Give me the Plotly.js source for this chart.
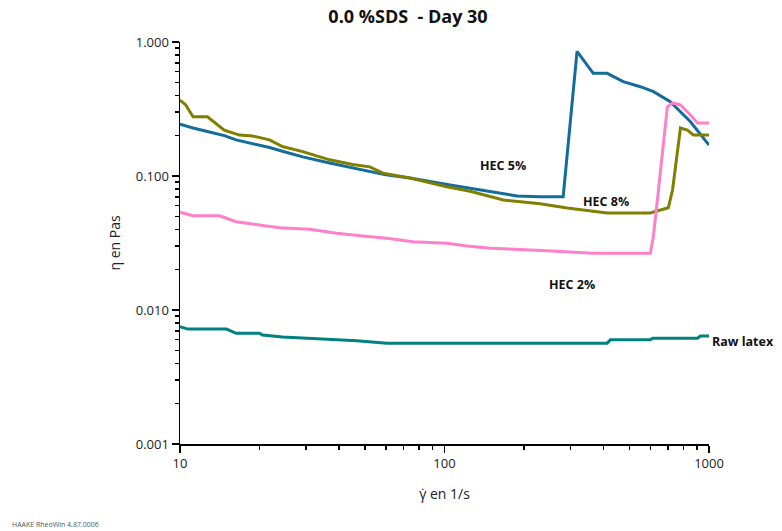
<!DOCTYPE html>
<html>
<head>
<meta charset="utf-8">
<script src="https://cdn.plot.ly/plotly-3.0.1.min.js"></script>
<style>html,body{margin:0;padding:0;background:#fff;}#chart{width:782px;height:531px;}</style>
</head>
<body>
<div id="chart"></div>
<script>
// HEC 5%
const hec5_x = [10, 11.2, 12.7, 14.7, 16.3, 18.8, 21.8, 24.4, 29.1, 36.8, 45, 52.2, 60, 74, 90, 105, 130, 160, 188, 230, 281, 317, 365, 412, 474, 550, 617, 714, 851, 1000];
const hec5_y = [0.244, 0.228, 0.215, 0.200, 0.186, 0.175, 0.163, 0.153, 0.139, 0.125, 0.115, 0.107, 0.102, 0.0966, 0.090, 0.0857, 0.080, 0.075, 0.071, 0.070, 0.070, 0.85, 0.584, 0.584, 0.506, 0.464, 0.426, 0.359, 0.254, 0.170];
// HEC 8%
const hec8_x = [10, 10.5, 11.2, 12.7, 14.7, 16.8, 18.8, 21.8, 24.4, 29.1, 36.8, 45, 52.2, 58.5, 74, 102, 125, 167, 230, 291, 412, 600, 702, 728, 747, 780, 829, 873, 1000];
const hec8_y = [0.369, 0.34, 0.277, 0.277, 0.220, 0.202, 0.199, 0.186, 0.166, 0.152, 0.132, 0.122, 0.117, 0.105, 0.0966, 0.0832, 0.077, 0.0662, 0.062, 0.0577, 0.053, 0.053, 0.058, 0.0786, 0.117, 0.228, 0.220, 0.202, 0.202];
// HEC 2%
const hec2_x = [10, 11.2, 14.1, 16.3, 18.8, 23.8, 30.9, 39.1, 49.1, 60.6, 76, 102, 122, 149, 244, 365, 600, 616, 644, 673, 696, 728, 780, 851, 905, 1000];
const hec2_y = [0.0536, 0.0505, 0.0505, 0.0456, 0.0438, 0.0411, 0.040, 0.0374, 0.0357, 0.0343, 0.0323, 0.0315, 0.030, 0.0289, 0.0277, 0.0265, 0.0265, 0.0352, 0.0785, 0.186, 0.329, 0.351, 0.339, 0.285, 0.249, 0.249];
// Raw latex
const raw_x = [10, 10.7, 15, 16.3, 20, 20.5, 24.4, 31.8, 46.6, 60.6, 125, 412, 424, 600, 612, 904, 928, 1000];
const raw_y = [0.0075, 0.0072, 0.0072, 0.0067, 0.0067, 0.0065, 0.0063, 0.00615, 0.0059, 0.00564, 0.00564, 0.00564, 0.0060, 0.0060, 0.00615, 0.00615, 0.0064, 0.0064];

const seriesNames = ["HEC 5%", "HEC 8%", "HEC 2%", "Raw latex"];
const seriesColors = ["#136c9c", "#808000", "#ff80c8", "#008080"];
const yTickVals = [0.001, 0.01, 0.1, 1];
const yTickText = ["0.001", "0.010", "0.100", "1.000"];
const xTickVals = [10, 100, 1000];
const xTickText = ["10", "100", "1000"];
const yMinorVals = [0.002,0.003,0.004,0.005,0.006,0.007,0.008,0.009,0.02,0.03,0.04,0.05,0.06,0.07,0.08,0.09,0.2,0.3,0.4,0.5,0.6,0.7,0.8,0.9];
const xMinorVals = [20,30,40,50,60,70,80,90,200,300,400,500,600,700,800,900];

const xs = [hec5_x, hec8_x, hec2_x, raw_x];
const ys = [hec5_y, hec8_y, hec2_y, raw_y];
const traces = xs.map((x, i) => ({
  x: x, y: ys[i], type: 'scatter', mode: 'lines', name: seriesNames[i],
  line: {color: seriesColors[i], width: 3}, cliponaxis: false
}));

const lblFont = {family: 'Open Sans, sans-serif', size: 12.5, color: '#111', weight: 'bold'};
const layout = {
  width: 782, height: 531,
  margin: {l: 180, r: 73, t: 42, b: 87},
  paper_bgcolor: '#fff', plot_bgcolor: '#fff',
  showlegend: false,
  title: {text: '<b>0.0 %SDS\u00a0 - Day 30</b>', font: {family: 'Open Sans, sans-serif', size: 18, color: '#111'}, x: 408/782, xanchor: 'center', y: 1 - 17/531, yanchor: 'middle'},
  xaxis: {
    type: 'log', range: [1, 3], showline: true, linecolor: '#000', linewidth: 1.5,
    showgrid: false, zeroline: false, ticks: 'outside', ticklen: 7, tickcolor: '#000', tickwidth: 1.5,
    tickvals: xTickVals, ticktext: xTickText,
    tickfont: {family: 'Open Sans, sans-serif', size: 13, color: '#222'},
    minor: {ticks: 'outside', ticklen: 4, tickcolor: '#000', tickwidth: 1.5, showgrid: false, tickvals: xMinorVals},
    title: {text: 'γ̇ en 1/s', font: {family: 'Open Sans, sans-serif', size: 14, color: '#222'}, standoff: 18}
  },
  yaxis: {
    type: 'log', range: [-3, 0], showline: true, linecolor: '#000', linewidth: 1.5,
    showgrid: false, zeroline: false, ticks: 'outside', ticklen: 7, tickcolor: '#000', tickwidth: 1.5,
    tickvals: yTickVals, ticktext: yTickText,
    tickfont: {family: 'Open Sans, sans-serif', size: 13, color: '#222'},
    minor: {ticks: 'outside', ticklen: 4, tickcolor: '#000', tickwidth: 1.5, showgrid: false, tickvals: yMinorVals},
    title: {text: 'η en Pas', font: {family: 'Open Sans, sans-serif', size: 14, color: '#222'}, standoff: 12}
  },
  annotations: [
    {text: '<b>HEC 5%</b>', xref: 'x', yref: 'y', x: 2.2216, y: -0.918, showarrow: false, font: lblFont, xanchor: 'center', yanchor: 'middle'},
    {text: '<b>HEC 8%</b>', xref: 'x', yref: 'y', x: 2.61, y: -1.192, showarrow: false, font: lblFont, xanchor: 'center', yanchor: 'middle'},
    {text: '<b>HEC 2%</b>', xref: 'x', yref: 'y', x: 2.481, y: -1.813, showarrow: false, font: lblFont, xanchor: 'center', yanchor: 'middle'},
    {text: '<b>Raw latex</b>', xref: 'paper', yref: 'paper', x: 1.002, y: 0.2545, showarrow: false, font: lblFont, xanchor: 'left', yanchor: 'middle'},
    {text: 'HAAKE RheoWin 4.87.0006', xref: 'paper', yref: 'paper', x: -170/529, y: -80/402, showarrow: false, xanchor: 'left', yanchor: 'middle', font: {family: 'Open Sans, sans-serif', size: 7, color: '#555'}}
  ]
};
Plotly.newPlot('chart', traces, layout, {displayModeBar: false, staticPlot: true});
</script>
</body>
</html>
